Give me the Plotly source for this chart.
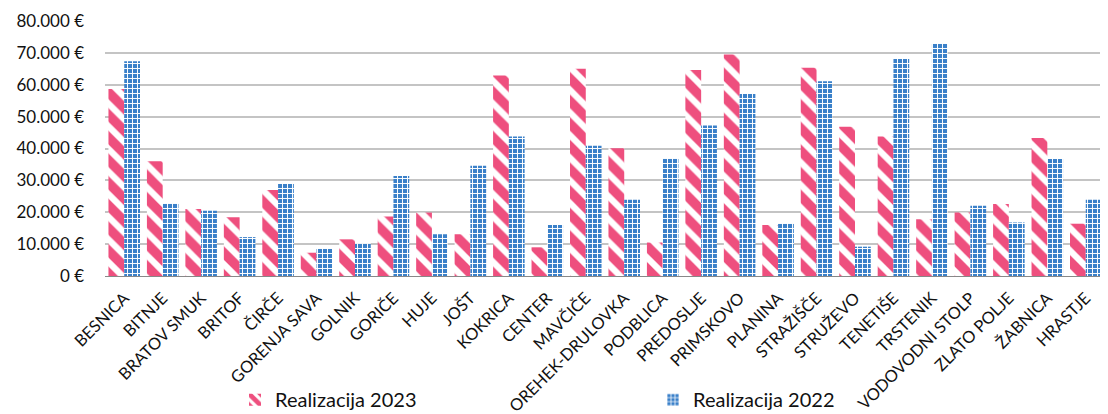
import plotly.graph_objects as go

categories = ["BESNICA", "BITNJE", "BRATOV SMUK", "BRITOF", "ČIRČE", "GORENJA SAVA", "GOLNIK",
              "GORIČE", "HUJE", "JOŠT", "KOKRICA", "CENTER", "MAVČIČE", "OREHEK-DRULOVKA",
              "PODBLICA", "PREDOSLJE", "PRIMSKOVO", "PLANINA", "STRAŽIŠČE", "STRUŽEVO",
              "TENETIŠE", "TRSTENIK", "VODOVODNI STOLP", "ZLATO POLJE", "ŽABNICA", "HRASTJE"]
real_2023 = [58700, 36000, 21000, 18400, 27000, 7300, 11500,
             18700, 19900, 13100, 62900, 9000, 65000, 40100,
             10500, 64600, 69500, 16000, 65300, 46800,
             43800, 17800, 19900, 22600, 43300, 16400]
real_2022 = [67400, 22900, 20500, 12200, 28900, 8700, 10300,
             31400, 13100, 34600, 43800, 16000, 40900, 23900,
             37000, 47200, 57100, 16600, 61100, 9200,
             68100, 72900, 22000, 16800, 36700, 23900]
tick_vals = [0, 10000, 20000, 30000, 40000, 50000, 60000, 70000, 80000]
tick_text = [("{:,}".format(v).replace(",", ".") + " €") for v in tick_vals]

pink = "#EE4F7E"
blue = "#3A80C9"

fig = go.Figure()
fig.add_trace(go.Bar(
    x=categories, y=real_2023, name="Realizacija 2023",
    marker=dict(color="white", line=dict(width=0),
                pattern=dict(shape="\\", fgcolor=pink, bgcolor="white",
                             size=16, solidity=0.6, fillmode="replace")),
))
fig.add_trace(go.Bar(
    x=categories, y=real_2022, name="Realizacija 2022",
    marker=dict(color=blue, line=dict(width=0),
                pattern=dict(shape="+", fgcolor="white", bgcolor=blue,
                             size=5, solidity=0.35, fillmode="replace")),
))

fig.update_layout(
    width=1100, height=406,
    margin=dict(l=97, r=3, t=13, b=138, autoexpand=False),
    paper_bgcolor="white", plot_bgcolor="white",
    barmode="group", bargap=0.18, bargroupgap=0,
    font=dict(family="Lato, Open Sans, sans-serif", color="#111111"),
    legend=dict(orientation="h", x=0.13, y=-0.485, xanchor="left", yanchor="middle",
                font=dict(size=20, color="#111111"), bgcolor="rgba(0,0,0,0)",
                entrywidth=373, entrywidthmode="pixels"),
    showlegend=True,
)
fig.update_xaxes(tickangle=-45, tickfont=dict(size=16.5, color="#111111"),
                 showgrid=False, showline=True, linecolor="#888", linewidth=1,
                 ticks="", automargin=False, ticklabelstandoff=5)
fig.update_yaxes(range=[0, 80000], tickmode="array", tickvals=tick_vals, ticktext=tick_text,
                 tickfont=dict(size=17, color="#111111"),
                 showgrid=True, gridcolor="#c4c4c4", gridwidth=2,
                 zeroline=True, zerolinecolor="#888", zerolinewidth=1,
                 ticklabelstandoff=20, automargin=False)

fig.write_html("out.html")
